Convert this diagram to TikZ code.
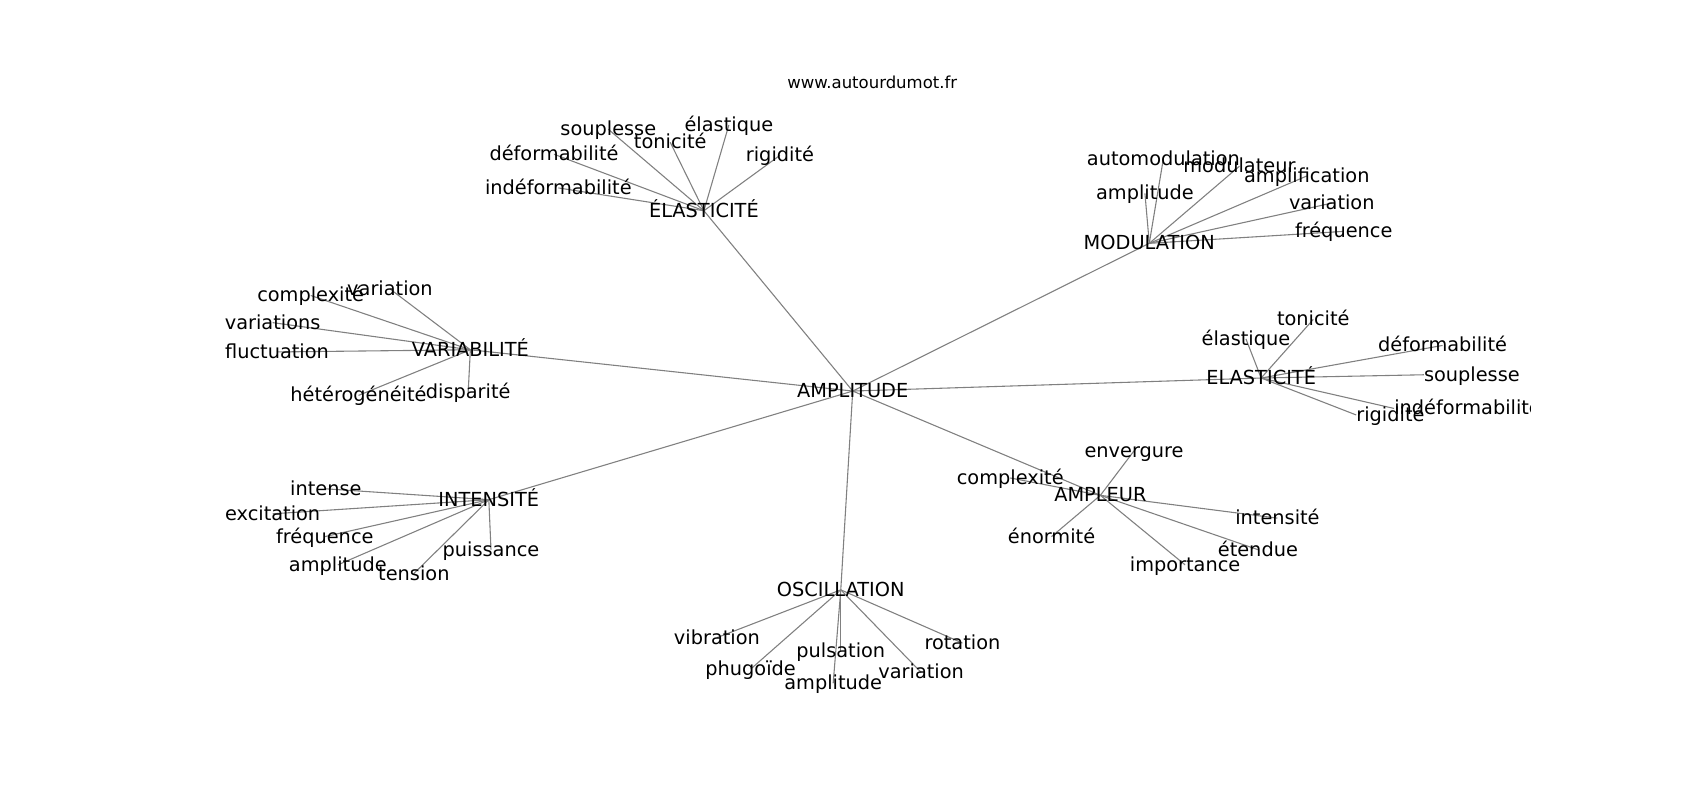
\documentclass[tikz,border=0pt]{standalone}
\usepackage{fontspec}
\setmainfont{DejaVu Sans}
\usetikzlibrary{backgrounds}
\begin{document}
\begin{tikzpicture}[x=1pt,y=-1pt]

      \useasboundingbox (0,0) rectangle (1565,737);

      \node[font=\fontsize{15.2}{18}\selectfont] (site) at (803,76) {www.autourdumot.fr};

      \begin{scope}[every node/.style={font=\fontsize{17.8}{21}\selectfont,inner sep=0pt,text height=12pt,text depth=0pt}]
        \clip (195.7,88.4) rectangle (1409,655.6);
        \node (amp)      at (785,360)  {AMPLITUDE};

        \node (ela)      at (648,194)  {ÉLASTICITÉ};
        \node (ela-soup) at (560,119)  {souplesse};
        \node (ela-elas) at (671,115)  {élastique};
        \node (ela-toni) at (617,131)  {tonicité};
        \node (ela-defo) at (510,142)  {déformabilité};
        \node (ela-rigi) at (718,143)  {rigidité};
        \node (ela-inde) at (514,173)  {indéformabilité};

        \node (mod)      at (1058,224) {MODULATION};
        \node (mod-auto) at (1071,146) {automodulation};
        \node (mod-modu) at (1141,153) {modulateur};
        \node (mod-ampl) at (1203,162) {amplification};
        \node (mod-ampt) at (1054,178) {amplitude};
        \node (mod-vari) at (1226,187) {variation};
        \node (mod-freq) at (1237,213) {fréquence};

        \node (elb)      at (1161,348) {ELASTICITÉ};
        \node (elb-toni) at (1209,294) {tonicité};
        \node (elb-elas) at (1147,312) {élastique};
        \node (elb-defo) at (1328,318) {déformabilité};
        \node (elb-soup) at (1355,345) {souplesse};
        \node (elb-inde) at (1351,376) {indéformabilité};
        \node (elb-rigi) at (1280,382) {rigidité};

        \node (var)      at (433,322)  {VARIABILITÉ};
        \node (var-vari) at (359,266)  {variation};
        \node (var-comp) at (286,272)  {complexité};
        \node (var-vars) at (251,297)  {variations};
        \node (var-fluc) at (255,324)  {fluctuation};
        \node (var-hete) at (330,364)  {hétérogénéité};
        \node (var-disp) at (431,361)  {disparité};

        \node (int)      at (450,460)  {INTENSITÉ};
        \node (int-inte) at (300,450)  {intense};
        \node (int-exci) at (251,473)  {excitation};
        \node (int-freq) at (299,494)  {fréquence};
        \node (int-ampt) at (311,520)  {amplitude};
        \node (int-tens) at (381,528)  {tension};
        \node (int-puis) at (452,506)  {puissance};

        \node (amr)      at (1013,456) {AMPLEUR};
        \node (amr-enve) at (1044,415) {envergure};
        \node (amr-comp) at (930,440)  {complexité};
        \node (amr-inte) at (1176,477) {intensité};
        \node (amr-enor) at (968,494)  {énormité};
        \node (amr-eten) at (1158,506) {étendue};
        \node (amr-impo) at (1091,520) {importance};

        \node (osc)      at (774,543)  {OSCILLATION};
        \node (osc-vibr) at (660,587)  {vibration};
        \node (osc-phug) at (691,616)  {phugoïde};
        \node (osc-puls) at (774,599)  {pulsation};
        \node (osc-ampt) at (767,629)  {amplitude};
        \node (osc-vari) at (848,619)  {variation};
        \node (osc-rota) at (886,592)  {rotation};
      \end{scope}

      \begin{scope}[on background layer,every edge/.style={draw=gray,line width=1pt}]
        \path (amp.center) edge (ela.center);
        \path (amp.center) edge (mod.center);
        \path (amp.center) edge (elb.center);
        \path (amp.center) edge (var.center);
        \path (amp.center) edge (int.center);
        \path (amp.center) edge (amr.center);
        \path (amp.center) edge (osc.center);

        \path (ela.center) edge (ela-soup.center);
        \path (ela.center) edge (ela-elas.center);
        \path (ela.center) edge (ela-toni.center);
        \path (ela.center) edge (ela-defo.center);
        \path (ela.center) edge (ela-rigi.center);
        \path (ela.center) edge (ela-inde.center);

        \path (mod.center) edge (mod-auto.center);
        \path (mod.center) edge (mod-modu.center);
        \path (mod.center) edge (mod-ampl.center);
        \path (mod.center) edge (mod-ampt.center);
        \path (mod.center) edge (mod-vari.center);
        \path (mod.center) edge (mod-freq.center);

        \path (elb.center) edge (elb-toni.center);
        \path (elb.center) edge (elb-elas.center);
        \path (elb.center) edge (elb-defo.center);
        \path (elb.center) edge (elb-soup.west);
        \path (elb.center) edge (elb-inde.west);
        \path (elb.center) edge (elb-rigi.west);

        \path (var.center) edge (var-vari.center);
        \path (var.center) edge (var-comp.center);
        \path (var.center) edge (var-vars.center);
        \path (var.center) edge (var-fluc.center);
        \path (var.center) edge (var-hete.center);
        \path (var.center) edge (var-disp.center);

        \path (int.center) edge (int-inte.center);
        \path (int.center) edge (int-exci.center);
        \path (int.center) edge (int-freq.center);
        \path (int.center) edge (int-ampt.center);
        \path (int.center) edge (int-tens.center);
        \path (int.center) edge (int-puis.center);

        \path (amr.center) edge (amr-enve.center);
        \path (amr.center) edge (amr-comp.center);
        \path (amr.center) edge (amr-inte.center);
        \path (amr.center) edge (amr-enor.center);
        \path (amr.center) edge (amr-eten.center);
        \path (amr.center) edge (amr-impo.center);

        \path (osc.center) edge (osc-vibr.center);
        \path (osc.center) edge (osc-phug.center);
        \path (osc.center) edge (osc-puls.center);
        \path (osc.center) edge (osc-ampt.center);
        \path (osc.center) edge (osc-vari.center);
        \path (osc.center) edge (osc-rota.center);
      \end{scope}

    \end{tikzpicture}
\end{document}
